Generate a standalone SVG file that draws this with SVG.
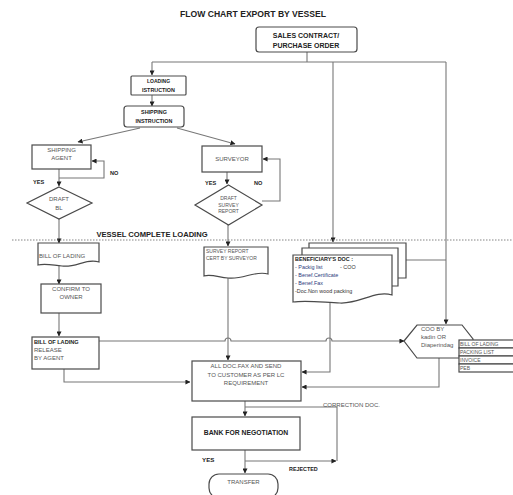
<svg xmlns="http://www.w3.org/2000/svg" width="513" height="495" viewBox="0 0 513 495">
<defs>
<marker id="ar" viewBox="0 0 6 6" refX="5.5" refY="3" markerWidth="5" markerHeight="5" orient="auto" markerUnits="userSpaceOnUse">
<path d="M0,0 L6,3 L0,6 Z" fill="#222"/>
</marker>
</defs>
<style>
.b{fill:#fff;stroke:#4a4a4a;stroke-width:1.2}
.c{fill:none;stroke:#777;stroke-width:1.1}
.ca{fill:none;stroke:#777;stroke-width:1.1;marker-end:url(#ar)}
text{font-family:"Liberation Sans",Arial,sans-serif;fill:#333}
.bd{font-weight:bold;fill:#222}
.t{font-size:6px;fill:#555}
.s{font-size:5px;fill:#555}
.m{text-anchor:middle}
.bl{fill:#2a3a7a}
</style>
<rect width="513" height="495" fill="#fff"/>
<text x="253" y="17" class="bd m" font-size="8.6">FLOW CHART EXPORT BY VESSEL</text>

<g id="connectors">
<path class="c" d="M307,52 V62 M152,62 H446"/>
<path class="ca" d="M152,62 V75"/>
<path class="ca" d="M333,62 V242"/>
<path class="ca" d="M446,62 V324"/>
<path class="ca" d="M152,95 V106"/>
<path class="ca" d="M140,128 L78,142"/>
<path class="ca" d="M177,128 L235,144"/>
<path class="ca" d="M59,169 V186"/>
<path class="ca" d="M59,178 H104 V161 H92"/>
<path class="ca" d="M227,172 V184"/>
<path class="ca" d="M262,201 H280 V159 H263"/>
<path class="ca" d="M59,219 V243"/>
<path class="ca" d="M228,225 V246"/>
<path class="ca" d="M59,266 V284"/>
<path class="ca" d="M59,313 V336"/>
<path class="ca" d="M99,341 H225 A3,3 0 0 1 231,341 H326 A3,3 0 0 1 332,341 H404"/>
<path class="ca" d="M64,369 V382 H190"/>
<path class="ca" d="M228,276 V360"/>
<path class="ca" d="M330,303 V372 H302"/>
<path class="ca" d="M439,358 V387 H302"/>
<path class="c" d="M406,260 H446"/>
<path class="ca" d="M245,401 V416"/>
<path class="c" d="M245,407 H337 V461"/>
<path class="ca" d="M245,450 V473"/>
<path class="ca" d="M245,461 H336"/>
</g>

<line x1="12" y1="240" x2="513" y2="240" stroke="#777" stroke-width="0.9" stroke-dasharray="1.5,1.5"/>
<text x="152" y="237" class="bd m" font-size="7.6">VESSEL COMPLETE LOADING</text>

<g id="sales">
<rect class="b" x="256" y="27" width="101" height="25" rx="3"/>
<text x="306" y="38" class="bd m" font-size="7">SALES CONTRACT/</text>
<text x="306" y="47.5" class="bd m" font-size="7">PURCHASE ORDER</text>
</g>

<g id="loading">
<rect class="b" x="131" y="76" width="55" height="19" rx="1"/>
<text x="158.5" y="83" class="bd m" font-size="5">LOADING</text>
<text x="158.5" y="91.5" class="bd m" font-size="5.4">ISTRUCTION</text>
</g>

<g id="shipping-instruction">
<rect class="b" x="124" y="106" width="60" height="21" rx="3"/>
<text x="154" y="114" class="bd m" font-size="5.4">SHIPPING</text>
<text x="154" y="123" class="bd m" font-size="5.4">INSTRUCTION</text>
</g>

<g id="shipping-agent">
<rect class="b" x="32" y="145" width="59" height="24"/>
<text x="61.5" y="152" class="t m" font-size="5.6">SHIPPING</text>
<text x="61.5" y="160" class="t m" font-size="5.6">AGENT</text>
<text x="110" y="175" class="bd" font-size="5.6">NO</text>
<text x="33" y="184" class="bd" font-size="5.6">YES</text>
</g>

<g id="draft-bl">
<polygon class="b" points="59,187 92,203 59,219 27,203"/>
<text x="59" y="201" class="t m" font-size="5.6">DRAFT</text>
<text x="59" y="210" class="t m" font-size="5.6">BL</text>
</g>

<g id="surveyor">
<rect class="b" x="202" y="146" width="60" height="26"/>
<text x="232" y="161" class="t m" font-size="5.8">SURVEYOR</text>
<text x="205" y="185" class="bd" font-size="5.6">YES</text>
<text x="254" y="185" class="bd" font-size="5.6">NO</text>
</g>

<g id="draft-survey">
<polygon class="b" points="228.5,185 262,205 228.5,225 195,205"/>
<text x="228.5" y="200" class="s m" font-size="4.4">DRAFT</text>
<text x="228.5" y="206.5" class="s m" font-size="4.4">SURVEY</text>
<text x="228.5" y="213" class="s m" font-size="4.4">REPORT</text>
</g>

<g id="bill-of-lading">
<path class="b" d="M38,243 H99 V262 C86,258 76,268 62,266 C52,265 45,263 38,265 Z"/>
<text x="39" y="258" class="t" font-size="5.8" fill="#333">BILL OF LADING</text>
</g>

<g id="confirm">
<rect class="b" x="41" y="284" width="60" height="29"/>
<text x="71" y="291" class="t m" font-size="5.8">CONFIRM TO</text>
<text x="71" y="299" class="t m" font-size="5.8">OWNER</text>
</g>

<g id="bl-release">
<rect class="b" x="32" y="337" width="67" height="32"/>
<text x="34" y="344" class="bd" font-size="5.6">BILL OF LADING</text>
<text x="34" y="352" class="t" font-size="5.6">RELEASE</text>
<text x="34" y="360" class="t" font-size="5.6">BY AGENT</text>
</g>

<g id="survey-report">
<path class="b" d="M204,247 H268 V274 C255,270 243,280 228,278 C218,277 211,274 204,276 Z"/>
<text x="206" y="253" class="s" font-size="4.8">SURVEY REPORT</text>
<text x="206" y="260" class="s" font-size="4.8">CERT BY SURVEYOR</text>
</g>

<g id="beneficiary-doc">
<path class="b" d="M309,248 V243 H406 V278 H398"/>
<path class="b" d="M302,255 V248 H398 V286 H392"/>
<path class="b" d="M293,255 H392 V295 C375,290 360,304 340,303 C320,302 305,300 293,302 Z"/>
<text x="295" y="261" class="bd" font-size="5.4">BENEFICIARY'S DOC :</text>
<text x="295" y="269" font-size="5.4"><tspan class="bl">- Packig list</tspan><tspan x="340">- COO</tspan></text>
<text x="295" y="277" font-size="5.4" class="bl">- Benef.Certificate</text>
<text x="295" y="285" font-size="5.4" class="bl">- Benef.Fax</text>
<text x="295" y="293" font-size="5.4">-Doc.Non wood packing</text>
</g>

<g id="coo">
<polygon class="b" points="404,341 417,325 462,325 473,339 473,358 417,358"/>
<text x="421" y="331" class="t" font-size="5.8">COO BY</text>
<text x="421" y="339" class="t" font-size="5.8">kadin OR</text>
<text x="421" y="347" class="t" font-size="5.8">Diaperindag</text>
</g>

<g id="doc-list">
<rect class="b" x="459" y="340" width="56" height="8"/>
<rect class="b" x="459" y="348" width="56" height="8"/>
<rect class="b" x="459" y="356" width="56" height="8"/>
<rect class="b" x="459" y="364" width="56" height="8"/>
<text x="460" y="346" class="s" font-size="4.4">BILL OF LADING</text>
<text x="460" y="354" class="s" font-size="4.4">PACKING LIST</text>
<text x="460" y="362" class="s" font-size="4.4">INVOICE</text>
<text x="460" y="370" class="s" font-size="4.4">PEB</text>
</g>

<g id="all-doc">
<rect class="b" x="192" y="361" width="109" height="40"/>
<text x="246" y="368" class="t m" font-size="5.8">ALL DOC.FAX  AND SEND</text>
<text x="246" y="376.5" class="t m" font-size="5.8">TO CUSTOMER AS PER LC</text>
<text x="246" y="385" class="t m" font-size="5.8">REQUIREMENT</text>
</g>

<text x="323" y="407" class="t" font-size="5.4">CORRECTION DOC.</text>

<g id="bank">
<rect class="b" x="192" y="417" width="108" height="33"/>
<text x="246" y="435" class="bd m" font-size="6.8">BANK FOR NEGOTIATION</text>
</g>
<text x="202" y="462" class="bd" font-size="6.2">YES</text>
<text x="289" y="471" class="bd" font-size="5.4">REJECTED</text>

<g id="transfer">
<rect class="b" x="209" y="474" width="69" height="24" rx="10"/>
<text x="243.5" y="484" class="t m" font-size="5.8">TRANSFER</text>
</g>
</svg>
